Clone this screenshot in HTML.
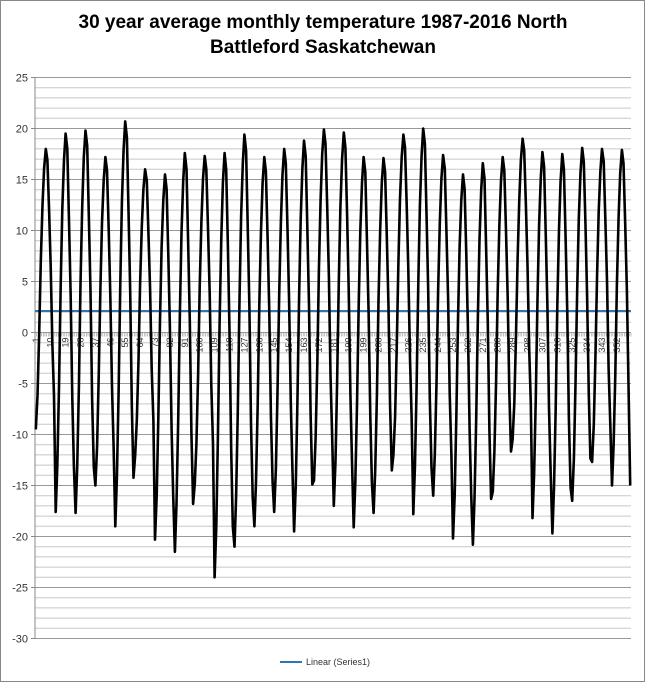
<!DOCTYPE html>
<html><head><meta charset="utf-8"><style>
html,body{margin:0;padding:0;background:#fff}
svg{display:block}
</style></head><body>
<svg id="c" width="645" height="682" xmlns="http://www.w3.org/2000/svg" font-family="Liberation Sans, sans-serif">
<rect x="0.5" y="0.5" width="644" height="681" fill="#fff" stroke="#888"/>
<text x="323" y="28" text-anchor="middle" font-size="19" font-weight="bold">30 year average monthly temperature 1987-2016 North</text>
<text x="323" y="53" text-anchor="middle" font-size="19" font-weight="bold">Battleford Saskatchewan</text>
<g id="grid"></g>
<g id="ylab" font-size="11" fill="#333" text-anchor="end"></g>
<g id="xlab" font-size="9" fill="#333"></g>
<line x1="35" y1="311" x2="631" y2="311" stroke="#2e75b6" stroke-width="2"/>
<polyline id="ser" fill="none" stroke="#000" stroke-width="2.6" stroke-linejoin="round"/>
<line x1="280" y1="662" x2="302" y2="662" stroke="#2e75b6" stroke-width="2"/>
<text x="306" y="665" font-size="9" fill="#333">Linear (Series1)</text>
</svg>
<script>
var ns="http://www.w3.org/2000/svg";
function Y(v){return 332.5-v*10.2;}
var g=document.getElementById('grid'),yl=document.getElementById('ylab'),xl=document.getElementById('xlab');
function el(t,a,p){var e=document.createElementNS(ns,t);for(var k in a)e.setAttribute(k,a[k]);p.appendChild(e);return e;}
for(var v=-30;v<=25;v++){var y=Y(v);el('line',{x1:35,x2:631,y1:y,y2:y,stroke:(v%5==0?'#999':'#c8c8c8'),'stroke-width':1},g);
 if(v%5==0){el('line',{x1:31,x2:35,y1:y,y2:y,stroke:'#888'},g);var t=el('text',{x:28,y:y+4},yl);t.textContent=v;}}
el('line',{x1:35,x2:35,y1:Y(25),y2:Y(-30),stroke:'#888'},g);
var dx=596/360;
for(var i=0;i<=360;i++){var x=35+i*dx;el('line',{x1:x,x2:x,y1:Y(0),y2:Y(0)+4,stroke:'#999','stroke-width':0.6},g);}
for(var n=1;n<=360;n+=9){var x=35+(n-0.5)*dx+3;var t=el('text',{x:0,y:0,transform:'translate('+x+','+(Y(0)+5)+') rotate(-90)','text-anchor':'end'},xl);t.textContent=n;}
var pk=[18,19.5,19.8,17.2,20.7,16,15.5,17.6,17.3,17.6,19.4,17.2,18,18.8,19.9,19.6,17.2,17.1,19.4,20,17.4,15.5,16.6,17.2,19,17.7,17.5,18.1,18,17.9];
var tr=[-9.5,-17.6,-17.7,-15,-19,-12,-20.3,-21.5,-14.8,-24,-21,-19,-17.6,-19.5,-14.5,-17,-19.1,-17.7,-12,-17.8,-16,-20.2,-20.8,-15.6,-10.5,-18.2,-19.7,-16.5,-12.7,-15];
var sh=[0,0.12,0.33,0.6,0.8,0.93,1,0.96,0.78,0.58,0.3,0.12];
var pts=[];
for(var yr=0;yr<30;yr++){for(var m=0;m<12;m++){var i=yr*12+m;var lo=tr[yr],hi=pk[yr];var v=lo+(hi-lo)*sh[m];
 if(m==11&&yr==29)v=-15;pts.push((35+(i+0.5)*dx).toFixed(1)+','+Y(v).toFixed(1));}}
document.getElementById('ser').setAttribute('points',pts.join(' '));
</script>
</body></html>
